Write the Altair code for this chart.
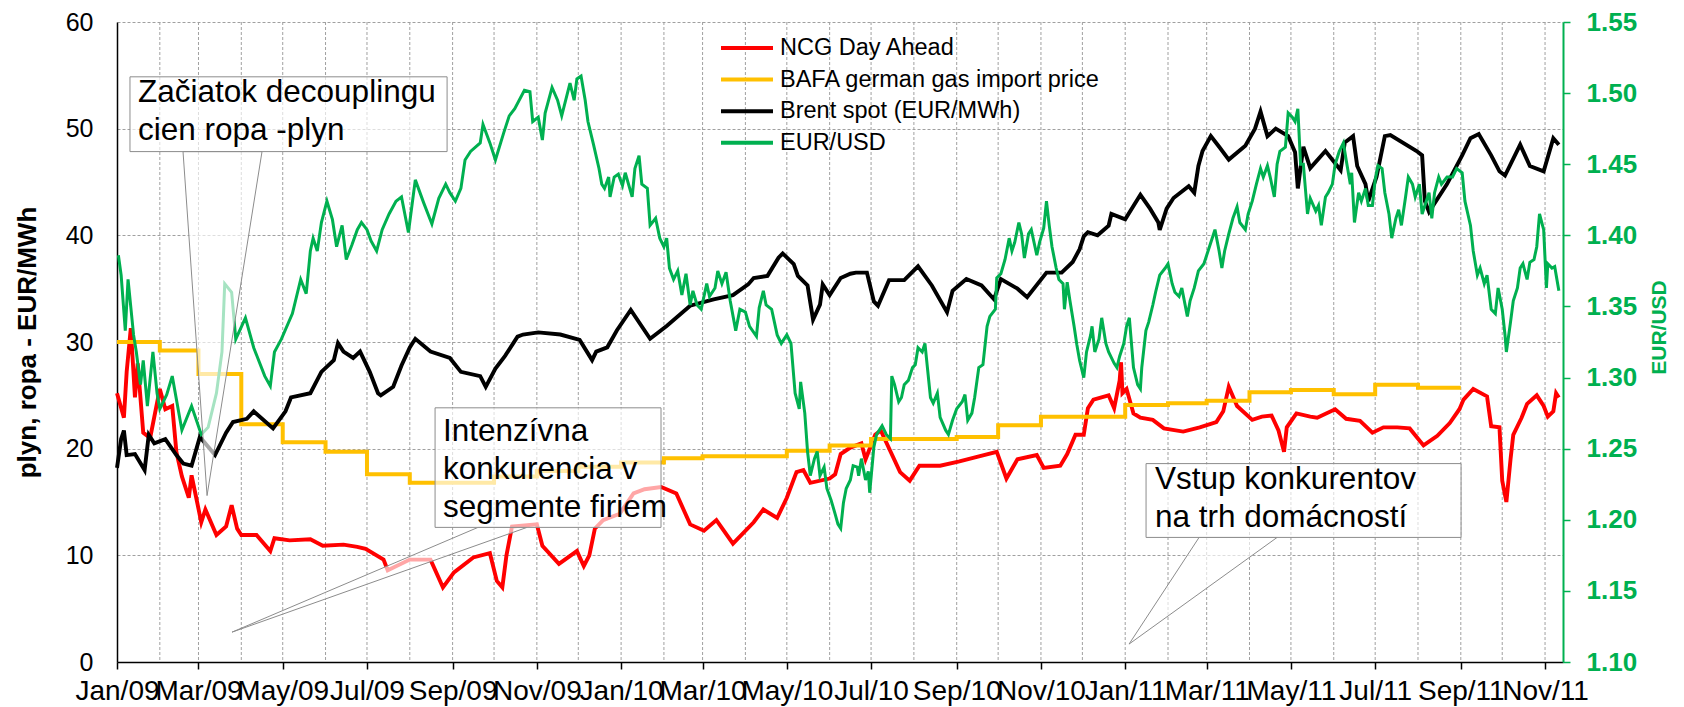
import altair as alt
import pandas as pd

START = pd.Timestamp("2009-01-01")

SERIES = ["NCG Day Ahead", "BAFA german gas import price", "Brent spot (EUR/MWh)", "EUR/USD"]
COLORS = ["#FF0000", "#FFC000", "#000000", "#00B050"]

# ---- NCG Day Ahead (EUR/MWh); x = days after 2009-01-01 ----
ncg_day = [
    0, 5, 7, 10, 13, 15, 19, 24, 31, 35,
    40, 43, 47, 52, 54, 58, 61, 64, 72, 79,
    83, 87, 90, 101, 111, 114, 125, 140, 149, 164,
    174, 180, 193, 196, 212, 227, 236, 244, 258, 270,
    275, 279, 282, 286, 304, 308, 320, 333, 338, 342,
    346, 352, 364, 374, 382, 394, 405, 415, 425, 434,
    446, 461, 468, 478, 485, 492, 497, 502, 516, 520,
    524, 531, 539, 542, 549, 553, 567, 574, 581, 596,
    610, 622, 637, 644, 652, 666, 671, 683, 688, 694,
    700, 703, 707, 718, 722, 726, 727, 728, 731, 736,
    741, 750, 758, 772, 784, 796, 801, 805, 811, 822,
    829, 836, 841, 845, 847, 854, 864, 869, 882, 890,
    900, 909, 917, 927, 936, 946, 956, 965, 972, 975,
    982, 992, 995, 1001, 1003, 1006, 1009, 1011, 1017, 1021,
    1028, 1033, 1036, 1040, 1042, 1044,
]
ncg_val = [
    25.2, 22.9, 27.2, 31.3, 24.8, 28.0, 21.5, 21.0, 25.6, 23.7,
    24.0, 19.7, 17.4, 15.4, 17.5, 15.0, 13.1, 14.3, 11.9, 12.7,
    14.7, 12.5, 11.9, 11.9, 10.4, 11.6, 11.4, 11.5, 10.9, 11.0,
    10.8, 10.6, 9.6, 8.6, 9.6, 9.6, 7.0, 8.4, 9.8, 10.2,
    7.6, 7.0, 10.0, 12.7, 12.9, 10.9, 9.2, 10.4, 9.0, 10.0,
    12.5, 13.3, 13.9, 15.8, 16.2, 16.4, 15.8, 12.9, 12.3, 13.3,
    11.1, 13.1, 14.3, 13.5, 15.4, 17.8, 18.0, 16.8, 17.2, 17.6,
    19.5, 20.1, 20.5, 19.0, 21.3, 21.7, 17.8, 17.0, 18.4, 18.4,
    18.8, 19.2, 19.7, 17.2, 19.0, 19.4, 18.2, 18.4, 19.5, 21.3,
    21.3, 23.8, 24.6, 25.0, 23.8, 26.4, 28.1, 25.2, 25.6, 23.3,
    22.9, 22.7, 21.9, 21.6, 22.0, 22.5, 23.5, 25.8, 24.0, 22.7,
    23.0, 23.1, 21.7, 19.7, 22.0, 23.3, 23.0, 22.9, 23.7, 22.8,
    22.6, 21.5, 22.0, 22.0, 21.9, 20.3, 21.2, 22.4, 23.7, 24.6,
    25.6, 24.9, 22.1, 22.0, 17.0, 15.0, 19.0, 21.3, 22.9, 24.2,
    25.0, 24.0, 23.0, 23.5, 25.2, 24.8,
]

# ---- BAFA german gas import price (monthly, EUR/MWh) ----
bafa_month = [
    "2009-01-01", "2009-02-01", "2009-03-01", "2009-04-01", "2009-05-01", "2009-06-01",
    "2009-07-01", "2009-08-01", "2009-09-01", "2009-10-01", "2009-11-01", "2009-12-01",
    "2010-01-01", "2010-02-01", "2010-03-01", "2010-04-01", "2010-05-01", "2010-06-01",
    "2010-07-01", "2010-08-01", "2010-09-01", "2010-10-01", "2010-11-01", "2010-12-01",
    "2011-01-01", "2011-02-01", "2011-03-01", "2011-04-01", "2011-05-01", "2011-06-01",
    "2011-07-01", "2011-08-01", "2011-09-01",
]
bafa_val = [
    30.0, 29.2, 27.0, 22.3, 20.6, 19.7,
    17.6, 16.8, 16.8, 17.4, 17.9, 18.3,
    18.7, 19.1, 19.3, 19.3, 19.8, 20.3,
    20.9, 20.9, 21.1, 22.2, 23.0, 23.0,
    24.1, 24.25, 24.5, 25.3, 25.5, 25.1,
    26.0, 25.7, 25.7,
]

# ---- Brent spot (EUR/MWh) ----
brent_day = [
    0, 3, 5, 7, 13, 20, 23, 27, 35, 43,
    48, 54, 60, 71, 79, 84, 94, 99, 113, 122,
    126, 140, 148, 157, 160, 164, 171, 176, 183, 189,
    191, 200, 206, 212, 216, 227, 241, 249, 263, 267,
    274, 281, 290, 294, 305, 321, 335, 344, 347, 355,
    362, 372, 386, 398, 415, 432, 446, 457, 461, 471,
    479, 482, 490, 493, 500, 504, 509, 511, 516, 524,
    531, 535, 543, 548, 551, 559, 570, 580, 590, 601,
    605, 615, 626, 635, 640, 652, 659, 673, 684, 692,
    697, 700, 703, 710, 718, 720, 730, 741, 748, 754,
    755, 760, 765, 776, 780, 783, 786, 792, 798, 805,
    817, 824, 828, 833, 839, 848, 853, 855, 859, 864,
    875, 886, 889, 895, 898, 904, 906, 912, 918, 922,
    941, 945, 947, 950, 963, 974, 980, 986, 995, 1001,
    1005, 1016, 1023, 1033, 1040, 1044,
]
brent_val = [
    18.2, 20.9, 21.7, 19.4, 19.5, 18.0, 21.3, 20.5, 20.9, 19.4,
    18.6, 18.4, 21.1, 19.4, 21.5, 22.5, 22.8, 23.5, 21.9, 23.5,
    24.8, 25.2, 27.2, 28.3, 29.9, 29.1, 28.5, 29.1, 27.2, 25.2,
    25.0, 25.8, 27.8, 29.5, 30.3, 29.1, 28.5, 27.2, 26.8, 25.8,
    27.5, 28.7, 30.5, 30.7, 30.9, 30.7, 30.2, 28.3, 29.1, 29.5,
    31.1, 33.0, 30.3, 31.5, 33.4, 34.0, 34.4, 35.4, 36.0, 36.2,
    37.9, 38.3, 37.3, 36.2, 35.3, 32.1, 33.5, 35.4, 34.4, 36.0,
    36.4, 36.5, 36.5, 33.8, 33.4, 35.8, 35.8, 37.1, 35.3, 32.8,
    34.8, 35.9, 35.3, 34.0, 35.9, 35.0, 34.2, 36.5, 36.5, 37.5,
    38.7, 39.9, 40.3, 40.0, 40.9, 42.0, 41.5, 43.8, 42.5, 41.2,
    40.5, 42.5, 43.5, 44.6, 44.0, 46.5, 47.9, 49.3, 48.3, 47.1,
    48.4, 50.0, 51.6, 49.3, 50.0, 49.3, 47.8, 44.4, 48.3, 46.3,
    47.9, 46.1, 48.7, 49.3, 46.5, 44.8, 43.2, 45.5, 49.3, 49.4,
    47.9, 47.5, 43.2, 42.2, 44.8, 47.5, 49.1, 49.5, 47.5, 46.0,
    45.6, 48.5, 46.5, 46.0, 49.1, 48.5,
]

# ---- EUR/USD (right axis) ----
usd_day = [
    1, 3, 6, 8, 12, 14, 17, 19, 22, 26,
    29, 31, 36, 40, 47, 54, 61, 66, 72, 76,
    78, 83, 86, 93, 99, 107, 111, 114, 119, 127,
    133, 137, 140, 142, 145, 148, 152, 156, 159, 163,
    166, 170, 174, 177, 181, 184, 188, 192, 197, 202,
    206, 211, 216, 222, 228, 233, 238, 241, 245, 249,
    252, 256, 263, 265, 270, 274, 280, 284, 288, 295,
    299, 301, 305, 308, 310, 315, 319, 322, 328, 331,
    333, 336, 339, 341, 345, 349, 351, 353, 356, 357,
    360, 363, 366, 368, 373, 375, 378, 380, 384, 386,
    390, 393, 396, 398, 400, 403, 406, 409, 412, 415,
    417, 420, 423, 427, 429, 433, 435, 438, 441, 444,
    448, 451, 455, 458, 463, 465, 468, 470, 474, 478,
    481, 485, 488, 491, 494, 495, 498, 500, 502, 505,
    507, 509, 512, 514, 517, 520, 522, 524, 526, 528,
    531, 533, 536, 537, 539, 542, 544, 545, 548, 550,
    554, 557, 560, 561, 563, 566, 568, 570, 573, 576,
    578, 580, 583, 585, 589, 591, 594, 596, 600, 602,
    605, 608, 612, 614, 616, 619, 621, 624, 627, 630,
    632, 636, 637, 640, 643, 646, 648, 650, 653, 655,
    657, 660, 662, 666, 668, 671, 673, 675, 677, 680,
    682, 685, 686, 688, 690, 693, 695, 697, 700, 702,
    705, 706, 708, 711, 713, 716, 718, 722, 724, 726,
    729, 731, 733, 736, 739, 741, 742, 745, 747, 750,
    752, 755, 759, 761, 764, 766, 769, 771, 775, 777,
    780, 783, 787, 789, 793, 795, 798, 800, 802, 805,
    808, 811, 813, 817, 819, 822, 825, 828, 830, 833,
    835, 838, 840, 842, 846, 848, 851, 853, 855, 857,
    859, 862, 864, 868, 870, 872, 875, 877, 880, 882,
    885, 888, 890, 893, 894, 896, 899, 901, 904, 906,
    909, 911, 913, 916, 918, 921, 923, 926, 928, 930,
    933, 935, 938, 940, 943, 945, 947, 950, 952, 954,
    957, 959, 963, 967, 970, 974, 976, 980, 982, 985,
    987, 990, 992, 995, 998, 1000, 1003, 1005, 1006, 1009,
    1011, 1014, 1016, 1018, 1021, 1023, 1026, 1028, 1030, 1033,
    1035, 1036, 1039, 1041, 1044,
]
usd_val = [
    1.386, 1.372, 1.333, 1.369, 1.330, 1.318, 1.295, 1.312, 1.280, 1.318,
    1.289, 1.278, 1.288, 1.301, 1.263, 1.280, 1.260, 1.265, 1.289, 1.318,
    1.366, 1.360, 1.327, 1.342, 1.321, 1.301, 1.294, 1.318, 1.327, 1.345,
    1.369, 1.359, 1.389, 1.398, 1.389, 1.409, 1.424, 1.411, 1.392, 1.407,
    1.383, 1.393, 1.404, 1.409, 1.404, 1.396, 1.389, 1.404, 1.415, 1.424,
    1.427, 1.402, 1.439, 1.423, 1.408, 1.426, 1.436, 1.430, 1.424, 1.433,
    1.453, 1.459, 1.465, 1.478, 1.465, 1.453, 1.472, 1.484, 1.489, 1.502,
    1.501, 1.480, 1.483, 1.467, 1.486, 1.504, 1.495, 1.484, 1.507, 1.495,
    1.510, 1.512, 1.495, 1.480, 1.464, 1.447, 1.436, 1.433, 1.441, 1.427,
    1.441, 1.443, 1.435, 1.444, 1.427, 1.447, 1.456, 1.436, 1.433, 1.407,
    1.412, 1.398, 1.392, 1.398, 1.377, 1.369, 1.375, 1.358, 1.373, 1.351,
    1.361, 1.351, 1.348, 1.366, 1.357, 1.363, 1.375, 1.366, 1.374, 1.354,
    1.333, 1.348, 1.346, 1.336, 1.329, 1.349, 1.361, 1.351, 1.348, 1.330,
    1.324, 1.330, 1.324, 1.289, 1.278, 1.297, 1.275, 1.248, 1.231, 1.243,
    1.248, 1.231, 1.237, 1.222, 1.214, 1.204, 1.197, 1.194, 1.212, 1.222,
    1.228, 1.238, 1.237, 1.231, 1.243, 1.228, 1.234, 1.219, 1.251, 1.260,
    1.266, 1.260, 1.257, 1.301, 1.295, 1.283, 1.286, 1.295, 1.298, 1.307,
    1.309, 1.321, 1.318, 1.324, 1.286, 1.282, 1.289, 1.272, 1.263, 1.260,
    1.270, 1.278, 1.283, 1.288, 1.270, 1.275, 1.286, 1.307, 1.309, 1.336,
    1.343, 1.348, 1.370, 1.373, 1.383, 1.398, 1.389, 1.395, 1.409, 1.401,
    1.384, 1.401, 1.404, 1.386, 1.395, 1.405, 1.424, 1.407, 1.392, 1.377,
    1.369, 1.366, 1.348, 1.367, 1.354, 1.336, 1.323, 1.312, 1.300, 1.318,
    1.330, 1.336, 1.318, 1.327, 1.342, 1.324, 1.318, 1.310, 1.307, 1.315,
    1.324, 1.336, 1.342, 1.307, 1.295, 1.292, 1.307, 1.333, 1.339, 1.351,
    1.360, 1.372, 1.377, 1.380, 1.366, 1.360, 1.357, 1.363, 1.343, 1.354,
    1.363, 1.375, 1.380, 1.386, 1.398, 1.404, 1.389, 1.377, 1.389, 1.401,
    1.412, 1.420, 1.409, 1.404, 1.415, 1.424, 1.436, 1.447, 1.441, 1.449,
    1.441, 1.427, 1.450, 1.459, 1.462, 1.486, 1.483, 1.480, 1.489, 1.450,
    1.450, 1.415, 1.426, 1.417, 1.421, 1.407, 1.427, 1.430, 1.436, 1.450,
    1.459, 1.465, 1.453, 1.436, 1.444, 1.409, 1.430, 1.424, 1.433, 1.421,
    1.421, 1.439, 1.449, 1.447, 1.430, 1.415, 1.398, 1.412, 1.418, 1.407,
    1.427, 1.441, 1.436, 1.427, 1.436, 1.415, 1.421, 1.430, 1.412, 1.430,
    1.441, 1.436, 1.441, 1.441, 1.447, 1.444, 1.424, 1.407, 1.389, 1.372,
    1.377, 1.366, 1.372, 1.348, 1.345, 1.363, 1.348, 1.330, 1.318, 1.339,
    1.354, 1.363, 1.377, 1.380, 1.369, 1.381, 1.383, 1.392, 1.415, 1.404,
    1.363, 1.380, 1.377, 1.378, 1.361,
]

# ---- axes ----
x_tick_months = [(2009, 1), (2009, 3), (2009, 5), (2009, 7), (2009, 9), (2009, 11),
                 (2010, 1), (2010, 3), (2010, 5), (2010, 7), (2010, 9), (2010, 11),
                 (2011, 1), (2011, 3), (2011, 5), (2011, 7), (2011, 9), (2011, 11)]
grid_months = pd.date_range("2009-02-01", "2011-11-01", freq="MS")
left_ticks = [0, 10, 20, 30, 40, 50, 60]
right_ticks = [1.10, 1.15, 1.20, 1.25, 1.30, 1.35, 1.40, 1.45, 1.50, 1.55]

# ---- annotations (x in days after 2009-01-01, y in EUR/MWh) ----
notes = ["Začiatok decouplingu\ncien ropa -plyn",
         "Intenzívna\nkonkurencia v\nsegmente firiem",
         "Vstup konkurentov\nna trh domácností"]
note_x = [15.2, 236, 751.6]
note_y = [52.5, 20.75, 16.26]
box_x0 = [9.4, 230.3, 745.1]
box_x1 = [239, 393.9, 973.2]
box_top = [54.86, 23.83, 18.60]
box_bottom = [47.85, 12.62, 11.68]
wedge_base_x0 = [47.8, 261.4, 783.5]
wedge_base_x1 = [105, 296.9, 840]
wedge_apex_x = [65.2, 83.3, 732.8]
wedge_apex_y = [15.6, 2.8, 1.68]


def to_dates(days):
    return [START + pd.Timedelta(days=float(d)) for d in days]


def line_df(days, vals, name):
    return pd.DataFrame({"date": to_dates(days), "value": vals, "series": name})


ncg_df = line_df(ncg_day, ncg_val, SERIES[0])
bafa_df = pd.DataFrame({"date": pd.to_datetime(bafa_month), "value": bafa_val, "series": SERIES[1]})
brent_df = line_df(brent_day, brent_val, SERIES[2])
usd_df = line_df(usd_day, usd_val, SERIES[3])
grid_df = pd.DataFrame({"date": grid_months})

box_df = pd.DataFrame({"date": to_dates(box_x0), "date2": to_dates(box_x1),
                       "value": box_top, "value2": box_bottom})
note_df = pd.DataFrame({"date": to_dates(note_x), "value": note_y, "label": notes})

FONT = "Liberation Sans"
GREEN = "#00B050"

x_scale = alt.Scale(domain=[alt.DateTime(year=2009, month=1, date=1),
                            alt.DateTime(year=2011, month=11, date=14)], nice=False)
x_axis = alt.Axis(values=[alt.DateTime(year=y, month=m, date=1) for y, m in x_tick_months],
                  format="%b/%y", labelFontSize=28, labelColor="black", labelOverlap=False,
                  labelFlush=False, labelPadding=8, tickSize=7, tickColor="black", tickWidth=1.5,
                  domainColor="black", domainWidth=1.5, grid=False, title=None)
left_scale = alt.Scale(domain=[0, 60], nice=False, zero=False)
right_scale = alt.Scale(domain=[1.10, 1.55], nice=False, zero=False)
left_axis = alt.Axis(values=left_ticks, grid=True, gridDash=[3, 2], gridColor="#a0a0a0",
                     gridWidth=1, ticks=False, labelPadding=24, labelFontSize=25,
                     labelColor="black", domainColor="black", domainWidth=1.5,
                     title="plyn, ropa - EUR/MWh", titleFontSize=26, titleFontWeight="bold",
                     titleColor="black", titlePadding=25)
right_axis = alt.Axis(orient="right", values=right_ticks, format=".2f", grid=False,
                      tickSize=7, tickColor=GREEN, tickWidth=1.5, domainColor=GREEN,
                      domainWidth=2, labelColor=GREEN, labelFontWeight="bold",
                      labelFontSize=26, labelPadding=16, title="EUR/USD", titleColor=GREEN,
                      titleFontSize=21, titleFontWeight="bold", titleAngle=270,
                      titleBaseline="top", titlePadding=12, titleY=305)

# legend: a long horizontal stroke drawn as a custom path inside a small symbol box
legend = alt.Legend(orient="none", legendX=613, legendY=9, title=None, labelFontSize=23.5,
                    labelColor="black", labelFont=FONT, symbolType="M-1.733,0H1.733",
                    symbolSize=900, symbolStrokeWidth=4, rowPadding=2.6, labelOffset=16,
                    padding=0, labelLimit=600)
color_enc = alt.Color("series:N", scale=alt.Scale(domain=SERIES, range=COLORS), legend=legend)


def xt(field):
    # every layer carries the same x axis so that Vega-Lite merges them into one
    return alt.X(field, type="temporal", scale=x_scale, axis=x_axis)


vgrid = alt.Chart(grid_df).mark_rule(color="#a0a0a0", strokeDash=[3, 2], strokeWidth=1).encode(
    x=xt("date"))

ncg = alt.Chart(ncg_df).mark_line(strokeWidth=3.9).encode(
    x=xt("date"), y=alt.Y("value:Q", scale=left_scale, axis=left_axis), color=color_enc)
bafa = alt.Chart(bafa_df).mark_line(strokeWidth=4, interpolate="step-after").encode(
    x=xt("date"), y=alt.Y("value:Q", scale=left_scale, axis=None), color=color_enc)
brent = alt.Chart(brent_df).mark_line(strokeWidth=3.9).encode(
    x=xt("date"), y=alt.Y("value:Q", scale=left_scale, axis=None), color=color_enc)
usd = alt.Chart(usd_df).mark_line(strokeWidth=3).encode(
    x=xt("date"), y=alt.Y("value:Q", scale=right_scale, axis=right_axis), color=color_enc)

wedge_layers = []
for i in range(3):
    wdf = pd.DataFrame({
        "date": to_dates([wedge_base_x0[i], wedge_apex_x[i]]),
        "date2": to_dates([wedge_base_x1[i], wedge_apex_x[i]]),
        "value": [box_bottom[i], wedge_apex_y[i]],
    })
    wedge_layers.append(
        alt.Chart(wdf).mark_area(orient="horizontal", fill="white", fillOpacity=0.65,
                                 stroke="#8c8c8c", strokeWidth=1).encode(
            y=alt.Y("value:Q", scale=left_scale, axis=None), x=xt("date"), x2="date2:T")
    )

boxes = alt.Chart(box_df).mark_rect(fill="white", fillOpacity=0.65, stroke="#8c8c8c",
                                    strokeWidth=1).encode(
    x=xt("date"), x2="date2:T", y=alt.Y("value:Q", scale=left_scale, axis=None),
    y2="value2:Q")
texts = alt.Chart(note_df).mark_text(align="left", baseline="alphabetic", fontSize=31.5,
                                     lineHeight=38, lineBreak="\n", color="black",
                                     font=FONT).encode(
    x=xt("date"), y=alt.Y("value:Q", scale=left_scale, axis=None), text="label:N")

chart = alt.layer(vgrid, ncg, bafa, brent, usd, *wedge_layers, boxes, texts).resolve_scale(
    y="independent"
).properties(
    width=1446, height=640,
    autosize=alt.AutoSizeParams(type="none"),
    padding={"left": 109, "top": 14, "right": 113, "bottom": 45},
).configure(font=FONT).configure_view(stroke=None)

chart.save("out.html", embed_options={"renderer": "svg", "actions": False})
